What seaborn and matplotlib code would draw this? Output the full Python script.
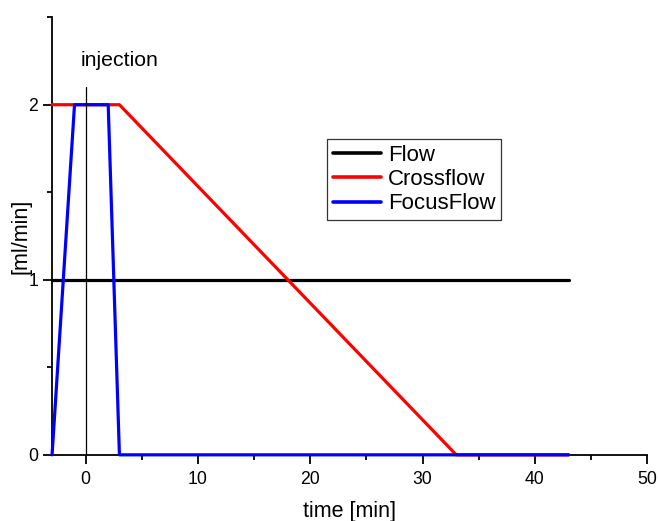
import matplotlib
matplotlib.use("Agg")
import matplotlib.pyplot as plt
import seaborn as sns
import pandas as pd
from matplotlib.ticker import MultipleLocator

sns.set_theme(style="ticks")
plt.rcParams['font.family'] = ['Liberation Sans', 'DejaVu Sans']
plt.rcParams.update({"text.color": "black", "axes.labelcolor": "black",
                     "xtick.color": "black", "ytick.color": "black"})

flow_t = [-3, 43]
flow_v = [1, 1]
cross_t = [-3, 3, 33, 43]
cross_v = [2, 2, 0, 0]
focus_t = [-3, -1, 2, 3, 43]
focus_v = [0, 2, 2, 0, 0]
series_names = ["Flow", "Crossflow", "FocusFlow"]
colors = ["#000000", "#ff0000", "#0000ff"]
injection_t = [0, 0]
injection_v = [0, 2.1]

rows = []
for name, ts, vs in zip(series_names, [flow_t, cross_t, focus_t], [flow_v, cross_v, focus_v]):
    for i, (t, v) in enumerate(zip(ts, vs)):
        rows.append({"time": t, "value": v, "series": name, "order": i})
df = pd.DataFrame(rows)

fig = plt.figure(figsize=(6.59, 5.21), dpi=100)
ax = fig.add_axes([0.079, 0.127, 0.903, 0.840])

sns.lineplot(data=df, x="time", y="value", hue="series", hue_order=series_names,
             palette=colors, sort=False, units="series", estimator=None,
             lw=2.3, ax=ax)
for i, line in enumerate(ax.get_lines()):
    line.set_clip_on(False)
    line.set_zorder(3 + i * 0.1)
ax.plot(injection_t, injection_v, color="black", lw=0.9, zorder=5, clip_on=False)

ax.set_xlim(-3, 50)
ax.set_ylim(0, 2.5)
ax.xaxis.set_major_locator(MultipleLocator(10))
ax.xaxis.set_minor_locator(MultipleLocator(5))
ax.set_yticks([0, 1, 2])
ax.yaxis.set_minor_locator(MultipleLocator(0.5))
for s in ["top", "right"]:
    ax.spines[s].set_visible(False)
for s in ["left", "bottom"]:
    ax.spines[s].set_color("black")
    ax.spines[s].set_linewidth(1.3)
ax.tick_params(axis="both", which="major", direction="out", length=6.5, width=1.3,
               colors="black", labelsize=12.7)
ax.tick_params(axis="x", which="major", pad=5)
ax.tick_params(axis="y", which="major", pad=3.5)
ax.tick_params(axis="both", which="minor", direction="out", length=3.5, width=1.3, colors="black")
ax.set_facecolor("white")
ax.grid(False)

ax.set_xlabel("time [min]", fontsize=15.5)
ax.set_ylabel("[ml/min]", fontsize=15.5)
ax.xaxis.set_label_coords(0.5, -0.105)
ax.yaxis.set_label_coords(-0.034, 0.5)

ax.text(-0.45, 2.25, "injection", fontsize=15.3, ha="left", va="center")

leg = ax.legend(loc="upper left", bbox_to_anchor=(0.462, 0.7215), frameon=True,
                fancybox=False, edgecolor="black", fontsize=16, handlelength=2.2,
                handletextpad=0.3, borderpad=0.25, labelspacing=0.15,
                borderaxespad=0, title=None)
leg.get_frame().set_linewidth(0.9)
for line in leg.get_lines():
    line.set_linewidth(2.6)
for t in leg.get_texts():
    t.set_color("black")

fig.savefig("out.png", dpi=100, facecolor="white")
